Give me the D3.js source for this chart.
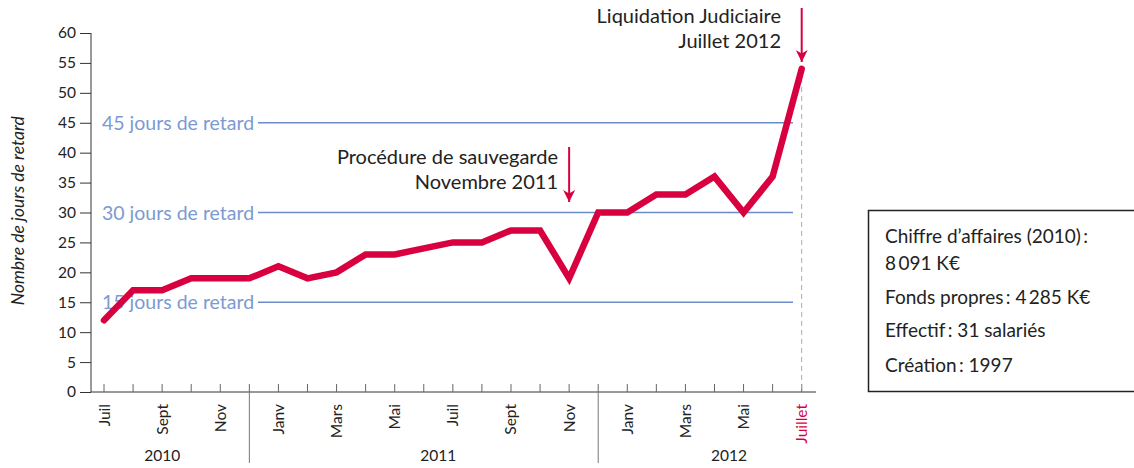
<!DOCTYPE html>
<html>
<head>
<meta charset="utf-8">
<script src="https://cdn.jsdelivr.net/npm/d3@7"></script>
<style>
  body { margin: 0; background: #fff; }
  svg { display: block; font-family: Lato, "Open Sans", sans-serif; }
</style>
</head>
<body>
<div id="chart"></div>
<script>
(function () {
    /* ----------------------- Data ----------------------- */
    const monthLabels = ["Juil", "", "Sept", "", "Nov", "", "Janv", "", "Mars", "", "Mai", "", "Juil", "", "Sept", "", "Nov", "", "Janv", "", "Mars", "", "Mai", "", "Juillet"];
    const delayDays = [12, 17, 17, 19, 19, 19, 21, 19, 20, 23, 23, 24, 25, 25, 27, 27, 19, 30, 30, 33, 33, 36, 30, 36, 54];
    const years = ["2010", "2011", "2012"];
    const yearLabelPos = [2, 11.5, 21.5];   // month index where the year label sits
    const yearSeparators = [5, 17];         // month index of separators
    const thresholds = [45, 30, 15];
    const yTicks = d3.range(0, 61, 5);
    const infoLines = ["Chiffre d\u2019affaires (2010)\u2009:", "8\u2009091 K\u20ac", "Fonds propres\u2009: 4\u2009285 K\u20ac", "Effectif\u2009: 31 salari\u00e9s", "Cr\u00e9ation\u2009: 1997"];

    const red = "#d8003f";
    const blue = "#6b8cc8";

    /* ----------------------- Dimensions ----------------------- */
    const W = 1134, H = 468;
    const svg = d3.select("#chart").append("svg").attr("width", W).attr("height", H);

    const x = d3.scaleLinear().domain([0, 24]).range([104, 801.7]);
    const y = d3.scaleLinear().domain([0, 60]).range([392, 33]);
    const axisLeftX = 91, axisRightX = 816;

    /* ----------------------- Y axis ----------------------- */
    const yAxis = d3.axisLeft(y).tickValues(yTicks).tickSize(11).tickPadding(4).tickSizeOuter(0);
    const yG = svg.append("g").attr("transform", `translate(${axisLeftX},0)`).call(yAxis);
    yG.attr("font-family", null).attr("font-size", null);
    yG.select(".domain").attr("stroke", "#333").attr("d", `M0,${y(60)}V${y(0)}`);
    yG.selectAll(".tick line").attr("stroke", "#333");
    yG.selectAll(".tick text").style("font-size", "15.5px").attr("fill", "#222");

    svg.append("text")
        .attr("transform", `translate(24,${y(30.3)}) rotate(-90)`)
        .attr("text-anchor", "middle")
        .style("font-size", "17.5px")
        .attr("font-style", "italic")
        .attr("fill", "#222")
        .text("Nombre de jours de retard");

    /* ----------------------- X axis ----------------------- */
    svg.append("line")
        .attr("x1", axisLeftX).attr("x2", axisRightX)
        .attr("y1", y(0)).attr("y2", y(0))
        .attr("stroke", "#333").attr("stroke-width", 1);

    svg.append("g").selectAll("line")
        .data(delayDays.map((d, i) => i))
        .enter().append("line")
        .attr("x1", (i) => x(i)).attr("x2", (i) => x(i))
        .attr("y1", y(0) - 8).attr("y2", y(0))
        .attr("stroke", "#666");

    svg.append("g").selectAll("text")
        .data(monthLabels.map((l, i) => ({ l, i })).filter((d) => d.l))
        .enter().append("text")
        .attr("transform", (d) => `translate(${x(d.i) + 5.5},${y(0) + 12}) rotate(-90)`)
        .attr("text-anchor", "end")
        .style("font-size", "15.5px")
        .attr("fill", (d) => d.i === 24 ? red : "#222")
        .text((d) => d.l);

    svg.append("g").selectAll("line")
        .data(yearSeparators)
        .enter().append("line")
        .attr("x1", (i) => x(i)).attr("x2", (i) => x(i))
        .attr("y1", y(0)).attr("y2", 463)
        .attr("stroke", "#777");

    svg.append("g").selectAll("text")
        .data(years)
        .enter().append("text")
        .attr("x", (d, i) => x(yearLabelPos[i]))
        .attr("y", 461)
        .attr("text-anchor", "middle")
        .style("font-size", "15.5px")
        .attr("fill", "#222")
        .text((d) => d);

    /* ----------------------- Thresholds ----------------------- */
    const thr = svg.append("g").selectAll("g").data(thresholds).enter().append("g");
    thr.append("line")
        .attr("x1", 258).attr("x2", 793)
        .attr("y1", (d) => y(d)).attr("y2", (d) => y(d))
        .attr("stroke", blue).attr("stroke-width", 1.5);
    thr.append("text")
        .attr("x", 102).attr("y", (d) => y(d) + 7)
        .style("font-size", "19.5px")
        .attr("fill", "#7c9ad2")
        .text((d) => `${d} jours de retard`);

    /* ----------------------- Dashed Juillet marker ----------------------- */
    svg.append("line")
        .attr("x1", x(24)).attr("x2", x(24))
        .attr("y1", y(54)).attr("y2", y(0))
        .attr("stroke", "#aaa").attr("stroke-dasharray", "5,4");

    /* ----------------------- Line ----------------------- */
    const line = d3.line().x((d, i) => x(i)).y((d) => y(d));
    svg.append("path")
        .datum(delayDays)
        .attr("d", line)
        .attr("fill", "none")
        .attr("stroke", red)
        .attr("stroke-width", 6.5)
        .attr("stroke-linejoin", "miter")
        .attr("stroke-linecap", "round");

    /* ----------------------- Annotations ----------------------- */
    svg.append("defs").append("marker")
        .attr("id", "arrow").attr("viewBox", "0 0 10 10")
        .attr("refX", 10).attr("refY", 5)
        .attr("markerWidth", 15).attr("markerHeight", 12)
        .attr("markerUnits", "userSpaceOnUse")
        .attr("orient", "auto")
        .append("path").attr("d", "M0,0L10,5L0,10L3,5Z").attr("fill", red);

    function annotate(i, top, bottom, lines, textX, firstBaseline) {
        svg.append("line")
            .attr("x1", x(i)).attr("x2", x(i))
            .attr("y1", top).attr("y2", bottom)
            .attr("stroke", red).attr("stroke-width", 2)
            .attr("marker-end", "url(#arrow)");
        svg.append("g").selectAll("text").data(lines).enter().append("text")
            .attr("x", textX).attr("y", (d, k) => firstBaseline + k * 25)
            .attr("text-anchor", "end")
            .style("font-size", "20px")
            .attr("fill", "#222")
            .text((d) => d);
    }
    annotate(24, 8, 62, ["Liquidation Judiciaire", "Juillet 2012"], 781, 23);
    annotate(16, 147, 202, ["Proc\u00e9dure de sauvegarde", "Novembre 2011"], 558, 164);

    /* ----------------------- Info box ----------------------- */
    svg.append("rect")
        .attr("x", 868.5).attr("y", 210.5)
        .attr("width", 300).attr("height", 181)
        .attr("fill", "none").attr("stroke", "#222").attr("stroke-width", 1.5);

    const infoY = [243, 270, 304, 337, 372];
    svg.append("g").selectAll("text").data(infoLines).enter().append("text")
        .attr("x", 885).attr("y", (d, k) => infoY[k])
        .style("font-size", "19px")
        .attr("fill", "#222")
        .text((d) => d);
})();
</script>
</body>
</html>
